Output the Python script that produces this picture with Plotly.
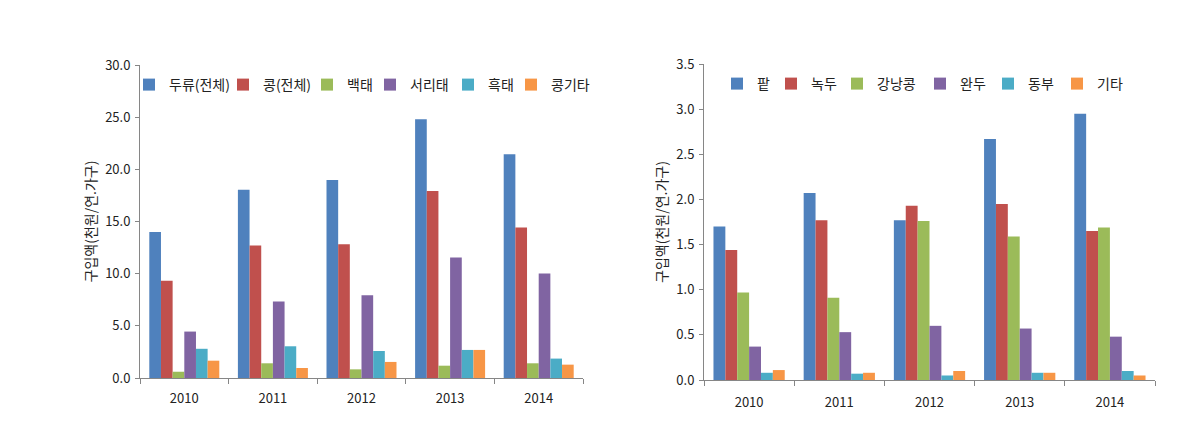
import plotly.graph_objects as go

years = ["2010", "2011", "2012", "2013", "2014"]

left_names = ["두류(전체)", "콩(전체)", "백태", "서리태", "흑태", "콩기타"]
left_values = [
    [14.0, 18.05, 18.98, 24.8, 21.44],
    [9.31, 12.7, 12.83, 17.92, 14.43],
    [0.6, 1.41, 0.83, 1.18, 1.41],
    [4.45, 7.33, 7.94, 11.55, 10.02],
    [2.8, 3.04, 2.59, 2.69, 1.86],
    [1.66, 0.96, 1.54, 2.69, 1.28],
]

right_names = ["팥", "녹두", "강낭콩", "완두", "동부", "기타"]
right_values = [
    [1.70, 2.07, 1.77, 2.67, 2.95],
    [1.44, 1.77, 1.93, 1.95, 1.65],
    [0.97, 0.91, 1.76, 1.59, 1.69],
    [0.37, 0.53, 0.60, 0.57, 0.48],
    [0.08, 0.07, 0.05, 0.08, 0.10],
    [0.11, 0.08, 0.10, 0.08, 0.05],
]

y_title = "구입액(천원/연.가구)"
colors = ["#4F81BD", "#C0504D", "#9BBB59", "#8064A2", "#4BACC6", "#F79646"]

FONT = "Noto Sans CJK KR"
TXT = "#222222"
# page body has an 8px margin; figure sized to fit the window
W, H = 1193, 421
OFF = 8


def px_x(x):
    return (x - OFF) / W


def px_y(y):
    return (H - (y - OFF)) / H


# legend text start positions (screen px) for each entry
left_leg_x = [169, 263, 347, 410, 488, 551]
right_leg_x = [757, 811, 877, 960, 1028, 1097]
LEG_TEXT_OFFSET = 40

fig = go.Figure()
legends = {}
for i, (name, vals, c) in enumerate(zip(left_names, left_values, colors)):
    lid = "legend" if i == 0 else f"legend{i + 1}"
    fig.add_trace(go.Bar(x=years, y=vals, name=name, marker_color=c,
                         marker_line_width=0, xaxis="x", yaxis="y", legend=lid))
    legends[lid] = dict(x=px_x(left_leg_x[i] - LEG_TEXT_OFFSET), y=px_y(85))
for j, (name, vals, c) in enumerate(zip(right_names, right_values, colors)):
    lid = f"legend{j + 7}"
    fig.add_trace(go.Bar(x=years, y=vals, name=name, marker_color=c,
                         marker_line_width=0, xaxis="x2", yaxis="y2", legend=lid))
    legends[lid] = dict(x=px_x(right_leg_x[j] - LEG_TEXT_OFFSET), y=px_y(84))

for lid, pos in legends.items():
    legends[lid] = dict(orientation="h", xanchor="left", yanchor="middle",
                        itemwidth=30, bgcolor="rgba(0,0,0,0)", borderwidth=0,
                        font=dict(size=14, family=FONT, color=TXT), **pos)

axcol = "#868686"
xcommon = dict(showline=True, linecolor=axcol, linewidth=1, ticks="outside",
               tickson="boundaries", tickcolor=axcol, ticklen=5, automargin=False,
               showgrid=False, tickfont=dict(size=13, color=TXT, family=FONT))
ycommon = dict(showline=True, linecolor=axcol, linewidth=1, ticks="outside",
               tickcolor=axcol, ticklen=4, showgrid=False, zeroline=False,
               automargin=False, ticklabelstandoff=2, tickformat=".1f",
               tickfont=dict(size=13, color=TXT, family=FONT),
               title=dict(text=y_title, font=dict(size=14, color=TXT, family=FONT), standoff=5))

fig.update_layout(
    width=W, height=H,
    margin=dict(l=0, r=0, t=0, b=0, autoexpand=False),
    paper_bgcolor="white", plot_bgcolor="white",
    barmode="group", bargap=0.21, bargroupgap=0,
    font=dict(family=FONT, color=TXT),
    xaxis=dict(domain=[px_x(140), px_x(583)], anchor="y", ticklabelstandoff=8, **xcommon),
    yaxis=dict(domain=[px_y(378), px_y(65)], anchor="x", range=[0, 30], dtick=5, **ycommon),
    xaxis2=dict(domain=[px_x(704), px_x(1155)], anchor="y2", ticklabelstandoff=10, **xcommon),
    yaxis2=dict(domain=[px_y(380), px_y(64)], anchor="x2", range=[0, 3.5], dtick=0.5, **ycommon),
    showlegend=True,
    **legends,
)

fig.write_html("out.html")
